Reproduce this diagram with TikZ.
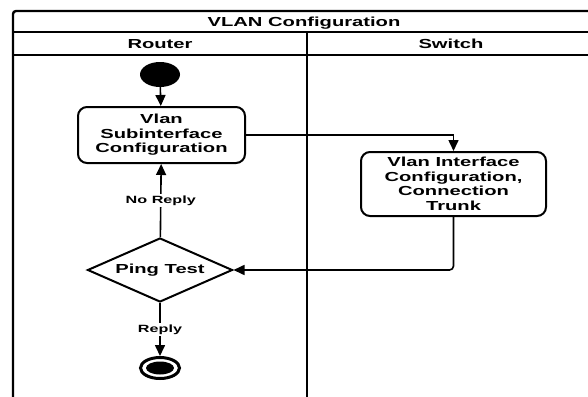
\documentclass[tikz,border=0pt]{standalone}
\usepackage{fontspec}
\setmainfont{Liberation Sans}[FakeStretch=1.54]
\usetikzlibrary{arrows.meta,shapes.geometric}

\begin{document}
\begin{tikzpicture}[x=1pt,y=1pt,
  >={Triangle[width=10pt,length=11pt]},
  every node/.style={inner sep=0pt,font=\fontsize{13.1}{14.6}\selectfont\bfseries},
  lane/.style={line width=2.4pt},
  heading/.style={text height=9.4pt,text depth=0pt},
  activity/.style={draw,line width=2pt,rounded corners=9pt,align=center},
  flow/.style={->,line width=1.6pt},
  guard/.style={fill=white,inner sep=1.5pt,font=\fontsize{10.5}{12}\selectfont\bfseries}]
\path [use as bounding box,clip] (0,0) rectangle (588,-396);
% swimlane frame
\draw [lane,rounded corners=3pt] (13,-410) -- (13,-11) -- (610,-11);
\draw [lane] (13,-32) -- (610,-32);
\draw [lane] (13,-55) -- (610,-55);
\draw [lane] (307,-32) -- (307,-410);
\node [heading] (title) at (304,-21.5) {VLAN Configuration};
\node [heading] (router) at (160,-43.5) {Router};
\node [heading] (switch) at (451,-43.5) {Switch};
% activities
\node [fill=black,ellipse,minimum width=40pt,minimum height=25pt] (start) at (160,-74.5) {};
\node [activity,minimum width=167pt,minimum height=56pt] (subif) at (161.5,-135) {Vlan\\Subinterface\\Configuration};
\node [activity,minimum width=185pt,minimum height=64pt] (trunk) at (453.5,-184) {Vlan Interface\\Configuration,\\Connection\\Trunk};
\node [draw,diamond,line width=2pt,aspect=2.27,minimum width=145pt,minimum height=64pt] (ping) at (160,-270) {Ping Test};
\node [draw,ellipse,line width=3pt,minimum width=39pt,minimum height=21pt] (stop) at (160,-368) {};
\node [fill=black,ellipse,minimum width=28pt,minimum height=13pt] (stopdot) at (stop) {};
% transitions
\draw [flow] (start) -- (subif);
\draw [flow] (subif) -| (trunk);
\draw [flow,rounded corners=4pt] (trunk) |- (ping);
\draw [flow] (ping) -- node [guard] {No Reply} (subif);
\draw [flow] (ping) -- node [guard] {Reply} (stop);
\end{tikzpicture}
\end{document}
